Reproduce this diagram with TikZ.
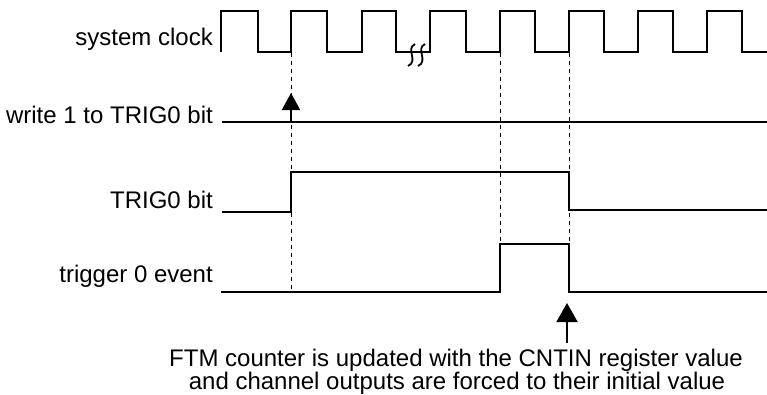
\documentclass[tikz,border=0pt]{standalone}
\usepackage{fontspec}
\setmainfont{Liberation Sans}
\usetikzlibrary{arrows.meta}
\begin{document}
\begin{tikzpicture}[x=1pt,y=-1pt,
  sig/.style={line width=2pt, line join=miter},
  guide/.style={line width=1pt, dash pattern=on 4pt off 4pt},
  lab/.style={anchor=base east, font=\fontsize{24}{28}\selectfont, inner sep=0pt},
  notetext/.style={anchor=base, font=\fontsize{24}{28}\selectfont, inner sep=0pt},
  ptrA/.style={line width=2pt, -{Triangle[width=18pt,length=17pt]}},
  ptrB/.style={line width=2pt, -{Triangle[width=21pt,length=19pt]}},
  squig/.style={line width=1.8pt}]
\useasboundingbox (0,0) rectangle (767,394);

% labels
\node[lab] (clk) at (213,45) {system clock};
\node[lab] (wr) at (213,123) {write 1 to TRIG0 bit};
\node[lab] (tb) at (213,208) {TRIG0 bit};
\node[lab] (te) at (213,282) {trigger 0 event};

% system clock
\draw[sig] (221,52) -- (221,11) -- (258,11) -- (258,52) -- (291,52) -- (291,11)
  -- (327,11) -- (327,52) -- (362,52) -- (362,11) -- (396,11) -- (396,52)
  -- (430,52) -- (430,11) -- (466,11) -- (466,52) -- (500,52) -- (500,11)
  -- (535,11) -- (535,52) -- (569,52) -- (569,11) -- (604,11) -- (604,52)
  -- (638,52) -- (638,11) -- (673,11) -- (673,52) -- (707,52) -- (707,11)
  -- (742,11) -- (742,52) -- (767,52);
% break marks
\draw[squig] (415,44) .. controls (405,49) and (419,61) .. (408,66);
\draw[squig] (425,44) .. controls (415,49) and (429,61) .. (418,66);

% write 1 to TRIG0 bit
\draw[sig] (222,122) -- (767,122);
% TRIG0 bit
\draw[sig] (222,212) -- (291,212) -- (291,172) -- (569,172) -- (569,210) -- (767,210);
% trigger 0 event
\draw[sig] (221,292) -- (500,292) -- (500,244) -- (569,244) -- (569,292) -- (767,292);

% guides
\coordinate (g1t) at (291,53);
\coordinate (g1b) at (291,292);
\coordinate (g2t) at (500,53);
\coordinate (g2b) at (500,244);
\coordinate (g3t) at (569,53);
\coordinate (g3b) at (569,244);
\draw[guide] (g1t) -- (g1b);
\draw[guide] (g2t) -- (g2b);
\draw[guide] (g3t) -- (g3b);

% arrows
\coordinate (a1s) at (291,122);
\coordinate (a1e) at (291,93);
\draw[ptrA] (a1s) -- (a1e);
\coordinate (a2s) at (567,343);
\coordinate (a2e) at (567,303);
\draw[ptrB] (a2s) -- (a2e);

% note
\node[notetext] (note1) at (456,366) {FTM counter is updated with the CNTIN register value};
\node[notetext] (note2) at (457,389) {and channel outputs are forced to their initial value};
\end{tikzpicture}
\end{document}
